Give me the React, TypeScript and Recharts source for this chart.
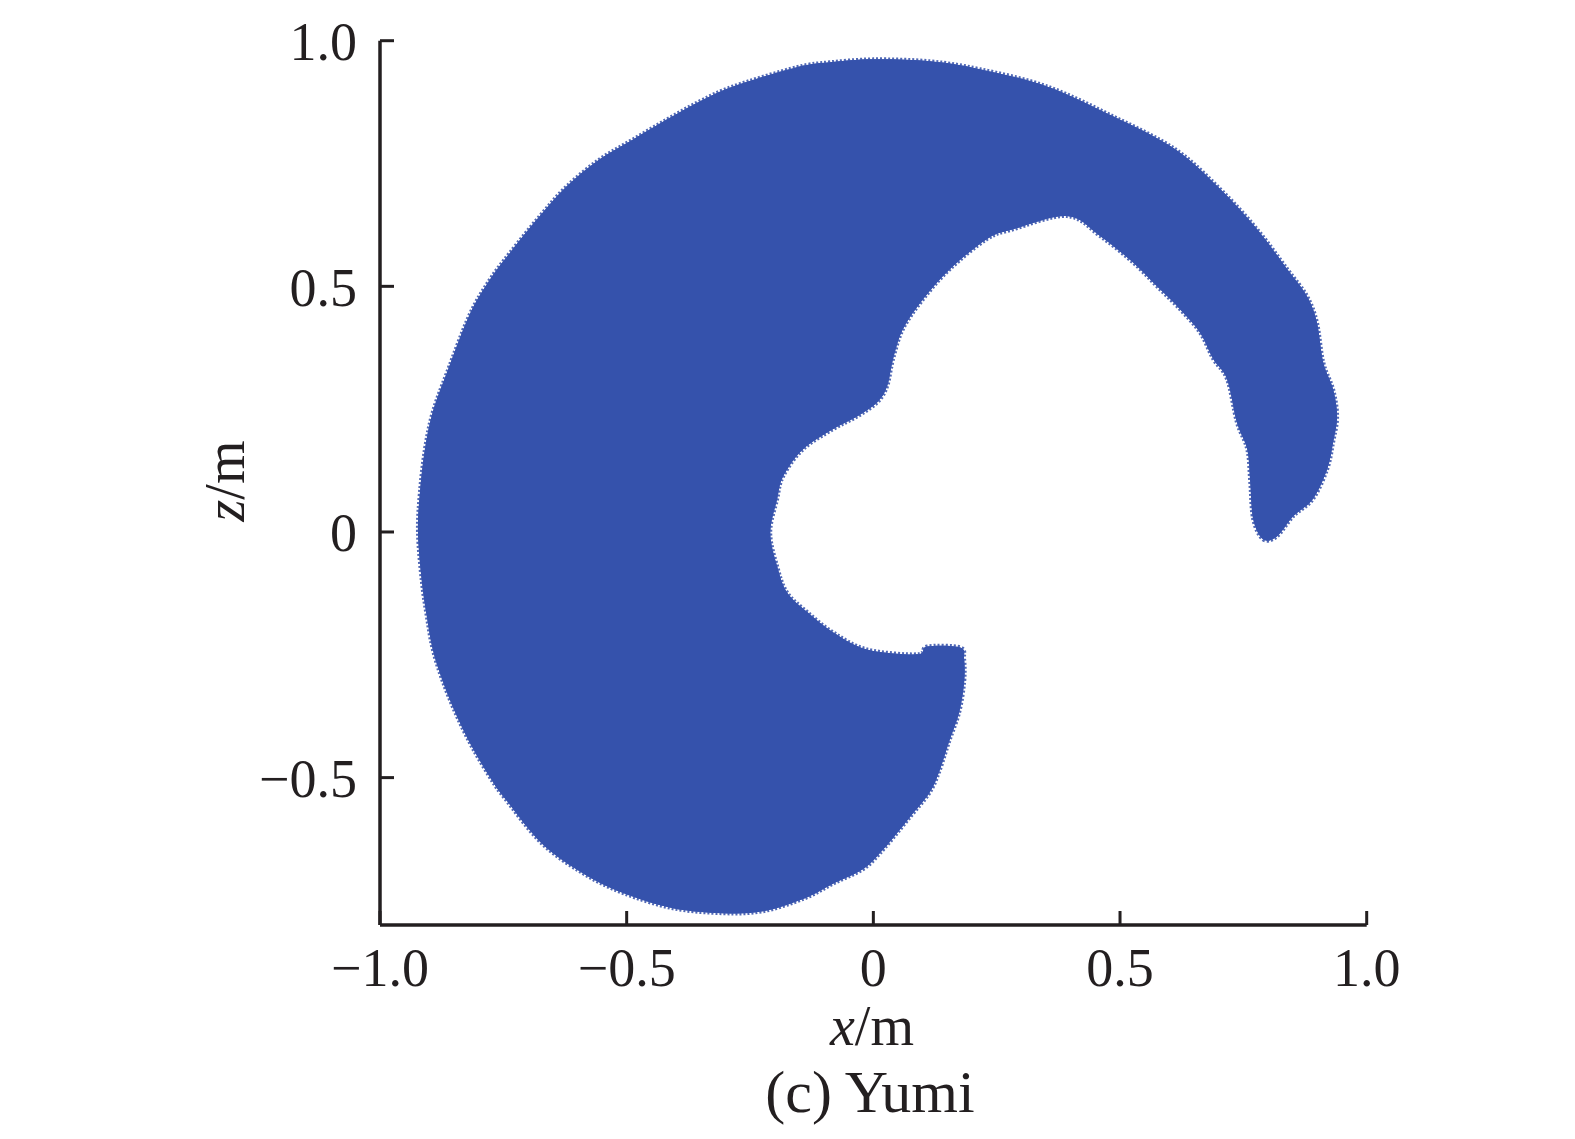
import { Scatter, ScatterChart, XAxis, YAxis } from "recharts";

// outline of the reachable region (x, z in metres)
const outlineX = [
  0.79, 0.818, 0.851, 0.891, 0.92, 0.932, 0.94, 0.932, 0.912, 0.899, 0.879, 0.839, 0.778, 0.703, 0.612, 0.486,
  0.352, 0.216, 0.115, 0.0, -0.088, -0.155, -0.284, -0.351, -0.418, -0.487, -0.554, -0.621, -0.676, -0.736,
  -0.777, -0.818, -0.864, -0.893, -0.909, -0.919, -0.923, -0.915, -0.905, -0.893, -0.872, -0.844, -0.811,
  -0.771, -0.747, -0.672, -0.588, -0.507, -0.406, -0.305, -0.224, -0.14, -0.08, -0.019, 0.022, 0.072, 0.113,
  0.133, 0.153, 0.174, 0.184, 0.184, 0.176,
  0.109, 0.089, -0.013, -0.082, -0.134, -0.175, -0.195, -0.209, -0.195, -0.183, -0.143, -0.082, -0.033, 0.008,
  0.028, 0.04, 0.06, 0.101, 0.155, 0.23, 0.283, 0.393, 0.46, 0.526, 0.575, 0.622, 0.662, 0.689, 0.717, 0.737,
  0.758, 0.764, 0.77,
];
const outlineZ = [
  -0.015, -0.009, 0.032, 0.067, 0.128, 0.183, 0.235, 0.29, 0.345, 0.427, 0.48, 0.535, 0.616, 0.698, 0.779, 0.846,
  0.907, 0.942, 0.958, 0.962, 0.956, 0.946, 0.907, 0.877, 0.84, 0.799, 0.759, 0.704, 0.643, 0.569,
  0.514, 0.443, 0.325, 0.244, 0.168, 0.081, -0.001, -0.102, -0.172, -0.239, -0.306, -0.375, -0.442,
  -0.509, -0.542, -0.634, -0.695, -0.735, -0.766, -0.776, -0.772, -0.746, -0.715, -0.685, -0.644, -0.583, -0.532,
  -0.489, -0.428, -0.367, -0.306, -0.259, -0.235,
  -0.233, -0.249, -0.239, -0.204, -0.163, -0.123, -0.07, -0.001, 0.067, 0.113, 0.168, 0.209, 0.235, 0.264,
  0.297, 0.352, 0.413, 0.474, 0.535, 0.596, 0.616, 0.643, 0.602, 0.549, 0.5, 0.453, 0.406, 0.352, 0.311, 0.223,
  0.168, 0.101, 0.026,
];

const xTicks = [-1, -0.5, 0, 0.5, 1];
const zTicks = [-0.5, 0, 0.5, 1];

const data = outlineX.map((x, i) => ({ x, z: outlineZ[i] }));

const blue = "#3552ac";
const ink = "#231f20";
const font = "'Liberation Serif', 'Times New Roman', serif";

const fmt = (v: number) => (v === 0 ? "0" : (v < 0 ? "\u2212" : "") + Math.abs(v).toFixed(1));

// closed catmull-rom path through the scaled outline points
function Region(props: any) {
  const pts: { x: number; y: number }[] = props.points || [];
  const n = pts.length;
  if (!n) return <g />;
  let d = `M${pts[0].x},${pts[0].y}`;
  for (let i = 0; i < n; i++) {
    const p0 = pts[(i - 1 + n) % n];
    const p1 = pts[i];
    const p2 = pts[(i + 1) % n];
    const p3 = pts[(i + 2) % n];
    const c1x = p1.x + (p2.x - p0.x) / 6;
    const c1y = p1.y + (p2.y - p0.y) / 6;
    const c2x = p2.x - (p3.x - p1.x) / 6;
    const c2y = p2.y - (p3.y - p1.y) / 6;
    d += ` C${c1x},${c1y} ${c2x},${c2y} ${p2.x},${p2.y}`;
  }
  d += " Z";
  return (
    <g>
      <path d={d} fill={blue} stroke="#5068b6" strokeWidth={4} strokeDasharray="2 2" strokeLinejoin="round" />
      <path d={d} fill={blue} stroke="none" />
    </g>
  );
}

export default function App() {
  const tick = { fontFamily: font, fontSize: 54, fill: ink };
  return (
    <div style={{ position: "absolute", left: 0, top: 0, width: 1575, height: 1139, background: "#fff" }}>
      <ScatterChart width={1575} height={1139} margin={{ top: 40.7, right: 208.3, bottom: 154, left: 280 }}>
        <XAxis
          type="number"
          dataKey="x"
          domain={[-1, 1]}
          ticks={xTicks}
          tickFormatter={fmt}
          allowDataOverflow
          height={60}
          tickSize={-14}
          tickMargin={37}
          tick={tick}
          axisLine={{ stroke: ink, strokeWidth: 3.5 }}
          tickLine={{ stroke: ink, strokeWidth: 3 }}
        />
        <YAxis
          type="number"
          dataKey="z"
          domain={[-0.8, 1]}
          ticks={zTicks}
          tickFormatter={fmt}
          allowDataOverflow
          width={100}
          tickSize={-14}
          tickMargin={37}
          tick={tick}
          axisLine={{ stroke: ink, strokeWidth: 3.5 }}
          tickLine={{ stroke: ink, strokeWidth: 3 }}
        />
        <Scatter
          data={data}
          fill={blue}
          line={(p: any) => <Region {...p} />}
          lineType="joint"
          shape={() => <g />}
          isAnimationActive={false}
        />
      </ScatterChart>
      <svg width={1575} height={1139} style={{ position: "absolute", left: 0, top: 0, pointerEvents: "none" }}>
        <text x={225} y={481} transform="rotate(-90 225 481)" textAnchor="middle" dominantBaseline="central"
          fontFamily={font} fontSize={56} fill={ink}>
          <tspan fontStyle="italic">z</tspan>/m
        </text>
        <text x={872} y={1045} textAnchor="middle" fontFamily={font} fontSize={56} fill={ink}>
          <tspan fontStyle="italic">x</tspan>/m
        </text>
        <text x={870} y={1112} textAnchor="middle" fontFamily={font} fontSize={60} fill={ink}>
          (c) Yumi
        </text>
      </svg>
    </div>
  );
}
